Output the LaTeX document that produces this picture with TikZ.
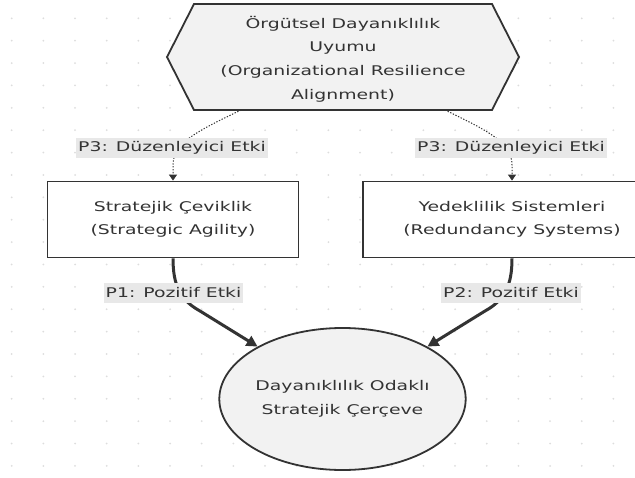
\documentclass[tikz,border=0pt]{standalone}
\usepackage{fontspec}
\newfontfamily\dv[FakeStretch=1.41]{DejaVu Sans}
\usetikzlibrary{shapes.geometric,arrows.meta}
\definecolor{ink}{HTML}{333333}
\definecolor{nodefill}{HTML}{F2F2F2}
\definecolor{lblfill}{HTML}{E8E8E8}
\definecolor{dotc}{HTML}{DDDDDD}
\tikzset{
  txt/.style={font=\dv\fontsize{13.35}{23.6}\selectfont, text=ink, align=center},
  box/.style={txt, draw=ink, line width=1.8pt, fill=white, inner sep=0pt, minimum height=76pt},
  ell/.style={txt, ellipse, draw=ink, line width=1.8pt, fill=nodefill, inner sep=0pt, minimum width=201pt, minimum height=142pt},
  lbl/.style={txt, fill=lblfill, inner xsep=2pt, inner ysep=0pt, minimum height=20pt},
  dotedge/.style={draw=ink, line width=1pt, dash pattern=on 1.3pt off 1.6pt, -{Triangle[length=6pt,width=8pt]}},
  thickedge/.style={draw=ink, line width=3pt, -{Triangle[length=11pt,width=11pt]}}
}
\begin{document}
\begin{tikzpicture}[x=1pt,y=-1pt]
\path[use as bounding box] (0,0) rectangle (635,477);
\clip (0,0) rectangle (635,477);
\fill[white] (0,0) rectangle (635,477);
\foreach \i in {0,...,19}{\foreach \j in {0,...,20}{
  \fill[dotc] ({11.7+31.67*\i},{18.3+22.38*\j}) circle (1pt);}}
% hexagon
\draw[ink, line width=1.8pt, fill=nodefill, line join=miter] (194,4) -- (492,4) -- (519,57) -- (492,110) -- (194,110) -- (167,57) -- cycle;
\node[txt] (hex) at (343,59) {Örgütsel Dayanıklılık\\Uyumu\\(Organizational Resilience\\Alignment)};
\coordinate (hexbl) at (241,110);
\coordinate (hexbr) at (445,110);
% boxes
\node[box, minimum width=251pt] (sa) at (173,219.5) {Stratejik Çeviklik\\(Strategic Agility)};
\node[box, minimum width=298pt] (rs) at (512,219.5) {Yedeklilik Sistemleri\\(Redundancy Systems)};
\node[ell] (rf) at (342.5,399) {Dayanıklılık Odaklı\\Stratejik Çerçeve};
% edges
\draw[dotedge] (hexbl) .. controls (200,130) and (173,142) .. (173,165) -- (sa.north);
\draw[dotedge] (hexbr) .. controls (486,130) and (512,142) .. (512,165) -- (rs.north);
\draw[thickedge] (sa.south) .. controls (173,285) and (180,300) .. (200,311) -- (rf);
\draw[thickedge] (rs.south) .. controls (512,285) and (505,300) .. (485,311) -- (rf);
% labels
\node[lbl] (l3a) at (172,147.5) {P3: Düzenleyici Etki};
\node[lbl] (l3b) at (511,147.5) {P3: Düzenleyici Etki};
\node[lbl] (l1) at (173.5,292.5) {P1: Pozitif Etki};
\node[lbl] (l2) at (511,292.5) {P2: Pozitif Etki};
\end{tikzpicture}
\end{document}
